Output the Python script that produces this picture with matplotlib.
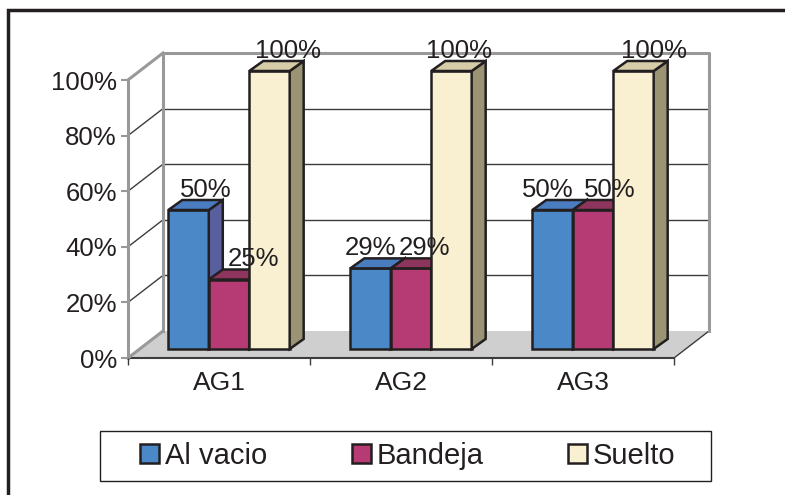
import matplotlib
matplotlib.use('Agg')
import matplotlib.pyplot as plt
from matplotlib.patches import Polygon, Rectangle, Patch
import numpy as np

# data
categories = ['AG1', 'AG2', 'AG3']
series = ['Al vacio', 'Bandeja', 'Suelto']
al_vacio = [0.50, 0.29, 0.50]
bandeja = [0.25, 0.29, 0.50]
suelto = [1.00, 1.00, 1.00]
y_ticks = [0.0, 0.2, 0.4, 0.6, 0.8, 1.0]
y_tick_labels = ['0%', '20%', '40%', '60%', '80%', '100%']

# styling
front_colors = ['#4a88c8', '#b63a74', '#f8f0d0']
top_colors = ['#4a7cc0', '#8e355e', '#d6cda8']
side_colors = ['#585f9e', '#8e355e', '#9a9474']
EDGE = '#231f20'
TEXT = '#231f20'
GRAY = '#999999'
FS_TICK = 18.5
FS_CAT = 19
FS_LABEL = 18.5
FS_LEG = 21

# label nudges in px (per category, per series), Excel shuffles them a bit
label_nudge = [[3, 11, 5], [-14, 0, -6], [-19, 3, 7]]

plt.rcParams['font.family'] = ['Liberation Sans', 'DejaVu Sans']

W, H = 785, 495
fig = plt.figure(figsize=(W / 100, H / 100), dpi=100)
# front plane of the 3d box: x 128..674 px, y 358..80 px
ax = fig.add_axes([128 / W, (H - 358) / H, 546 / W, 278 / H])
ax.set_xlim(0, len(categories))
ax.set_ylim(0, 1)
ax.patch.set_visible(False)
for s in ax.spines.values():
    s.set_visible(False)

SX = len(categories) / 546.0   # data units per px
SY = 1 / 278.0
WX, WY = 35 * SX, 27 * SY      # depth of walls
BX, BY = 10 * SX, 9 * SY       # bars sit a bit behind the front plane
DX, DY = 14 * SX, 10 * SY      # depth of the bars
ncat = len(categories)

# floor
ax.add_patch(Polygon([(0, 0), (ncat, 0), (ncat + WX, WY), (WX, WY)],
                     closed=True, facecolor='#cfcfcf', edgecolor='none',
                     zorder=0.5, clip_on=False))
ax.plot([0, ncat], [0, 0], color='#3c3c3c', lw=1.5, zorder=1, clip_on=False)
ax.plot([ncat, ncat + WX], [0, WY], color='#3c3c3c', lw=1, zorder=1, clip_on=False)

# back wall + gridlines
for v in y_ticks[1:-1]:
    ax.plot([WX, ncat + WX], [v + WY, v + WY], color='#3c3c3c', lw=1,
            zorder=1, clip_on=False)
    ax.plot([0, WX], [v, v + WY], color='#3c3c3c', lw=1, zorder=1, clip_on=False)
ax.plot([WX, WX, ncat + WX, ncat + WX], [WY, 1 + WY, 1 + WY, WY],
        color=GRAY, lw=2.2, zorder=1.5, clip_on=False)
ax.plot([0, WX], [0, WY], color=GRAY, lw=2.2, zorder=1.5, clip_on=False)
ax.plot([0, WX], [1, 1 + WY], color=GRAY, lw=2.2, zorder=1.5, clip_on=False)
ax.plot([0, 0], [0, 1], color=GRAY, lw=2.2, zorder=1.5, clip_on=False)

# bars
values = [al_vacio, bandeja, suelto]
n = len(series)
w = 1 / (n + 1.5)
gap = 0.75 * w
x = np.arange(ncat)
for i, vals in enumerate(values):
    left = x + gap + i * w + BX
    bars = ax.bar(left, vals, width=w, bottom=BY, align='edge',
                  color=front_colors[i], edgecolor=EDGE, linewidth=1.8,
                  clip_on=False)
    for j, (bar, v) in enumerate(zip(bars, vals)):
        z = 3 + (j * n + i) * 0.01
        bar.set_zorder(z)
        x0, x1 = left[j], left[j] + w
        y1 = BY + v
        top = Polygon([(x0, y1), (x1, y1), (x1 + DX, y1 + DY), (x0 + DX, y1 + DY)],
                      closed=True, facecolor=top_colors[i], edgecolor=EDGE,
                      linewidth=1.8, zorder=z, clip_on=False)
        side = Polygon([(x1, BY), (x1 + DX, BY + DY), (x1 + DX, y1 + DY), (x1, y1)],
                       closed=True, facecolor=side_colors[i], edgecolor=EDGE,
                       linewidth=1.8, zorder=z, clip_on=False)
        ax.add_patch(side)
        ax.add_patch(top)
        lx = x0 + w / 2 + DX + label_nudge[j][i] * SX
        ax.text(lx, y1 + DY + 3 * SY, f'{v:.0%}', ha='center', va='baseline',
                fontsize=FS_LABEL, color=TEXT, zorder=10, clip_on=False)

# axes ticks
ax.set_yticks(y_ticks, y_tick_labels)
ax.tick_params(axis='y', length=5, width=1.5, color=GRAY, pad=3,
               labelsize=FS_TICK, labelcolor=TEXT)
ax.set_xticks(x + 0.5, categories)
ax.set_xticks(np.arange(ncat + 1), minor=True)
ax.tick_params(axis='x', which='major', length=0, pad=9.5,
               labelsize=FS_CAT, labelcolor=TEXT)
ax.tick_params(axis='x', which='minor', length=5, width=1, color='#3c3c3c')

# legend box
fig.add_artist(Rectangle((100 / W, (H - 481) / H), 611 / W, 50 / H,
                         transform=fig.transFigure, facecolor='white',
                         edgecolor=EDGE, linewidth=1))
handles = [Patch(facecolor=c, edgecolor=EDGE, linewidth=1.8) for c in front_colors]
fig.legend(handles, series, ncol=3, frameon=False, loc='center',
           bbox_to_anchor=(408 / W, 1 - 456 / H), fontsize=FS_LEG,
           handlelength=0.65, handleheight=0.65, handletextpad=0.2,
           columnspacing=2.9, labelcolor=TEXT)

# outer frame
fig.add_artist(Rectangle((8 / W, -0.2), 1.2, 1.2 - 10 / H,
                         transform=fig.transFigure, facecolor='none',
                         edgecolor=EDGE, linewidth=2.5))

fig.savefig('out.png', dpi=100)
plt.close(fig)
